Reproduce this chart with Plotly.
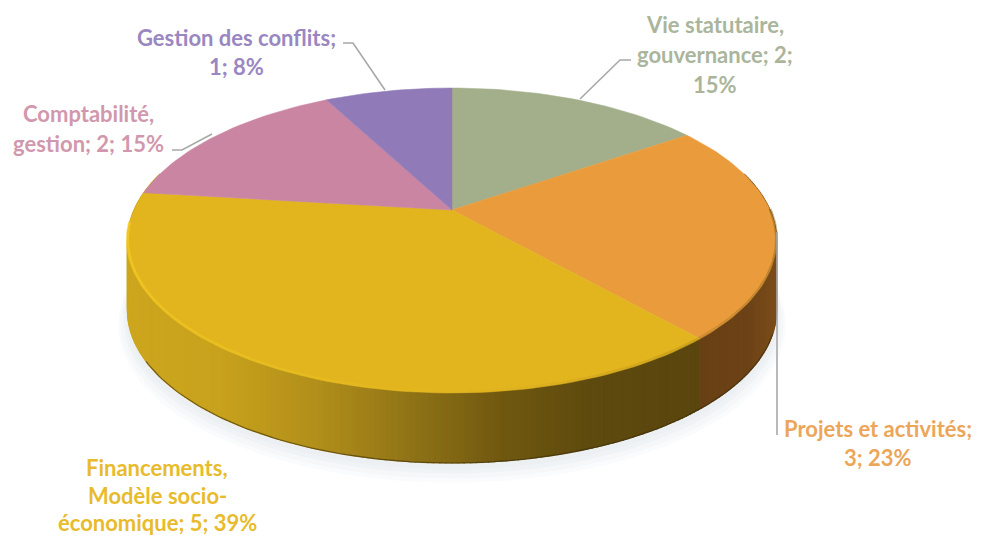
import math
import plotly.graph_objects as go

categories = ["Vie statutaire, gouvernance", "Projets et activités",
              "Financements, Modèle socio-économique", "Comptabilité, gestion",
              "Gestion des conflits"]
values = [2, 3, 5, 2, 1]
top_colors = ["#a3af8b", "#ea9c3c", "#e2b51f", "#c985a2", "#907bb8"]
label_colors = ["#aab59c", "#eca65a", "#e8bb2c", "#d198ad", "#9a87c2"]
label_lines = [
    (["Vie statutaire,", "gouvernance; 2;", "15%"], 715, [24, 54, 84]),
    (["Projets et activités;", "3; 23%"], 878, [428, 457]),
    (["Financements,", "Modèle socio-", "économique; 5; 39%"], 157, [467, 495, 522]),
    (["Comptabilité,", "gestion; 2; 15%"], 88, [113, 143]),
    (["Gestion des conflits;", "1; 8%"], 236, [37, 66]),
]
leaders = [
    ([631, 620, 580], [60, 60, 99]),
    ([777, 777], [232, 435]),
    ([172, 182, 212], [150, 150, 134]),
    ([343, 353, 385], [43, 43, 90]),
]
# side shading: screen x -> colour
side_stops_yellow = [(127, (205, 166, 30)), (220, (200, 162, 28)), (320, (176, 142, 26)),
                     (420, (140, 112, 22)), (500, (112, 88, 16)), (590, (94, 74, 14)),
                     (700, (90, 70, 14))]
side_stops_orange = [(690, (104, 64, 20)), (745, (108, 66, 22)), (780, (125, 78, 26))]

CX, CY, A, B, K, DEPTH = 452, 210, 318, 146.4, 0.2, 70


def project(theta, dy=0.0, grow=0.0):
    u, v = math.sin(theta), math.cos(theta)
    w = 1 + K * v
    return CX + (A + grow) * u / w, CY - (B + grow * 0.5) * v / w + dy


def mix(stops, x):
    if x <= stops[0][0]:
        return stops[0][1]
    for (x0, c0), (x1, c1) in zip(stops, stops[1:]):
        if x <= x1:
            t = (x - x0) / (x1 - x0)
            return tuple(c0[i] + (c1[i] - c0[i]) * t for i in range(3))
    return stops[-1][1]


total = sum(values)
edges = [0.0]
for val in values:
    edges.append(edges[-1] + 2 * math.pi * val / total)

fig = go.Figure()


def poly(xs, ys, color, line=0.0):
    fig.add_trace(go.Scatter(x=xs, y=ys, mode="lines", fill="toself", fillcolor=color,
                             line=dict(color=color, width=line), hoverinfo="skip",
                             showlegend=False))


# soft shadow
ring = [2 * math.pi * i / 240 for i in range(241)]
for grow, dy in [(9, 84), (7, 81), (4, 78), (2, 75)]:
    pts = [project(t, dy, grow) for t in ring]
    poly([p[0] for p in pts], [p[1] for p in pts], "rgba(190,198,220,0.08)")

# side wall, split by slice boundary
n = 240
lo, hi = math.radians(75), math.radians(285)
for i in range(n):
    t0 = lo + (hi - lo) * i / n
    t1 = lo + (hi - lo) * (i + 1) / n
    x0, y0 = project(t0)
    x1, y1 = project(t1)
    xb0, yb0 = project(t0, DEPTH)
    xb1, yb1 = project(t1, DEPTH)
    stops = side_stops_orange if (t0 + t1) / 2 < edges[2] else side_stops_yellow
    c = mix(stops, (x0 + x1) / 2)
    col = "rgb(%d,%d,%d)" % tuple(round(k) for k in c)
    poly([x0, x1, xb1, xb0, x0], [y0, y1, yb1, yb0, y0], col, 1.2)

# dark lower rim line
pts = [project(math.radians(110) + math.radians(130) * i / 120, DEPTH) for i in range(121)]
fig.add_trace(go.Scatter(x=[p[0] for p in pts], y=[p[1] for p in pts], mode="lines",
                         line=dict(color="rgba(60,45,10,0.6)", width=1.2),
                         hoverinfo="skip", showlegend=False))

# top face slices
for i in range(len(values)):
    m = max(2, int((edges[i + 1] - edges[i]) / (2 * math.pi) * 240))
    arc = [project(edges[i] + (edges[i + 1] - edges[i]) * j / m) for j in range(m + 1)]
    xs = [CX] + [p[0] for p in arc] + [CX]
    ys = [CY] + [p[1] for p in arc] + [CY]
    poly(xs, ys, top_colors[i], 0.5)

# bevel along the front rim: bright to the left, fading to a soft dark edge on the right
segs = 36
for s in range(segs):
    t0 = math.radians(265) - math.radians(175) * s / segs
    t1 = math.radians(265) - math.radians(175) * (s + 1) / segs
    arc = [project(t0 + (t1 - t0) * j / 4, -1) for j in range(5)]
    f = s / (segs - 1)
    if f < 0.5:
        color = "rgba(248,208,36,%.2f)" % (0.7 * (1 - f / 0.5))
    else:
        color = "rgba(120,90,20,%.2f)" % (0.45 * (f - 0.5) / 0.5)
    fig.add_trace(go.Scatter(x=[p[0] for p in arc], y=[p[1] for p in arc], mode="lines",
                             line=dict(color=color, width=3),
                             hoverinfo="skip", showlegend=False))

# leader lines
for lx, ly in leaders:
    fig.add_trace(go.Scatter(x=lx, y=ly, mode="lines",
                             line=dict(color="#a8a8a8", width=1.6),
                             hoverinfo="skip", showlegend=False))

annotations = []
for (lines, xc, ys), color in zip(label_lines, label_colors):
    for text, y in zip(lines, ys):
        annotations.append(dict(x=xc, y=y, text=text, showarrow=False, xanchor="center",
                                yanchor="middle",
                                font=dict(family="Lato", size=22, color=color, weight="bold")))

fig.update_layout(
    width=981, height=536, margin=dict(l=0, r=0, t=0, b=0),
    paper_bgcolor="white", plot_bgcolor="white", showlegend=False,
    xaxis=dict(range=[0, 981], visible=False, fixedrange=True),
    yaxis=dict(range=[536, 0], visible=False, fixedrange=True),
    annotations=annotations,
)
fig.write_html("out.html", config={"displayModeBar": False},
               post_script="document.body.style.margin='0';document.body.style.overflow='hidden';")
